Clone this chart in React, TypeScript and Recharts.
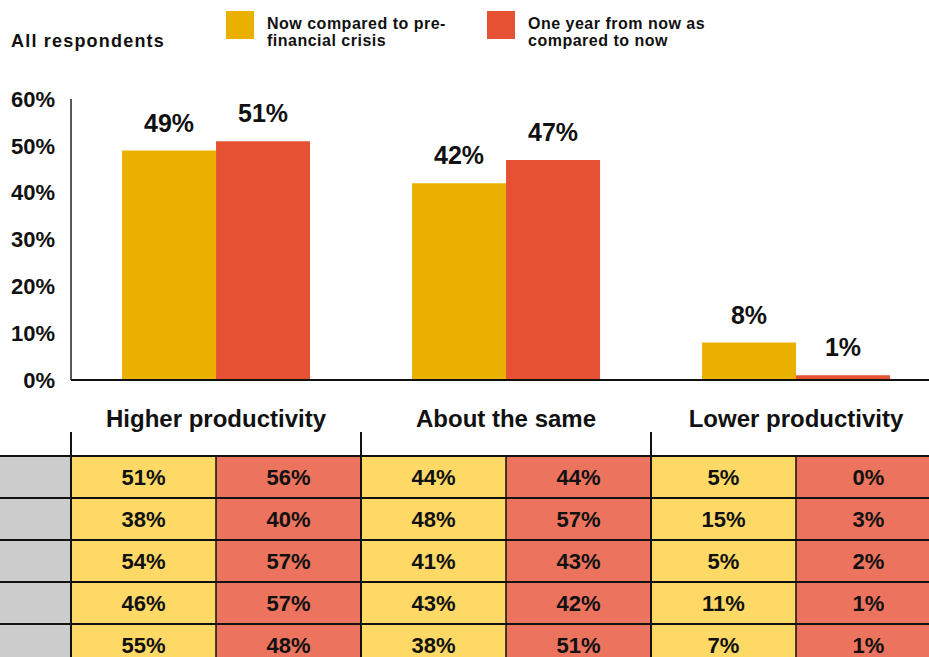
import { BarChart, Bar, XAxis, YAxis, LabelList } from "recharts";

const categories = ["Higher productivity", "About the same", "Lower productivity"];
const nowVsPreCrisis = [49, 42, 8];
const yearFromNow = [51, 47, 1];
const yTicks = [0, 10, 20, 30, 40, 50, 60];

// table below the chart: one list per group, five rows each
const tableNow = [
  [51, 38, 54, 46, 55],
  [44, 48, 41, 43, 38],
  [5, 15, 5, 11, 7],
];
const tableFuture = [
  [56, 40, 57, 57, 48],
  [44, 57, 43, 42, 51],
  [0, 3, 2, 1, 1],
];

const seriesNames = ["Now compared to pre-financial crisis", "One year from now as compared to now"];
const legendLines = [
  ["Now compared to pre-", "financial crisis"],
  ["One year from now as", "compared to now"],
];

const BAR_NOW = "#EAB000";
const BAR_FUTURE = "#E55132";
const CELL_NOW = "#FFD966";
const CELL_FUTURE = "#EC735E";
const CELL_GREY = "#CCCCCC";
const FONT = "'Liberation Sans', Arial, Helvetica, sans-serif";

const W = 941;
const H = 700;
const Y_AXIS_W = 71;
const BAND = (W - Y_AXIS_W) / categories.length;
const ROW_H = 42;

const data = categories.map((c, i) => ({
  name: c,
  now: nowVsPreCrisis[i],
  future: yearFromNow[i],
}));

function GroupTick(props: any) {
  const { x, y, payload } = props;
  const i = categories.indexOf(payload.value);
  const left = x - BAND / 2;
  const right = x + BAND / 2;
  const top = y + 76;
  const rows = tableNow[i];
  return (
    <g>
      <text
        x={x}
        y={y + 47}
        textAnchor="middle"
        fontFamily={FONT}
        fontWeight="bold"
        fontSize={24}
        fill="#111"
      >
        {payload.value}
      </text>
      {i === 0 &&
        rows.map((_, r) => (
          <rect key={"g" + r} x={0} y={top + r * ROW_H} width={left} height={ROW_H} fill={CELL_GREY} />
        ))}
      {rows.map((v, r) => (
        <g key={r}>
          <rect x={left} y={top + r * ROW_H} width={BAND / 2} height={ROW_H} fill={CELL_NOW} />
          <rect x={x} y={top + r * ROW_H} width={BAND / 2} height={ROW_H} fill={CELL_FUTURE} />
          <text
            x={(left + x) / 2}
            y={top + r * ROW_H + 29}
            textAnchor="middle"
            fontFamily={FONT}
            fontWeight="bold"
            fontSize={22}
            fill="#111"
          >
            {v}%
          </text>
          <text
            x={(x + right) / 2}
            y={top + r * ROW_H + 29}
            textAnchor="middle"
            fontFamily={FONT}
            fontWeight="bold"
            fontSize={22}
            fill="#111"
          >
            {tableFuture[i][r]}%
          </text>
          <line
            x1={i === 0 ? 0 : left}
            x2={right}
            y1={top + r * ROW_H}
            y2={top + r * ROW_H}
            stroke="#111"
            strokeWidth={2}
          />
        </g>
      ))}
      <line x1={left} x2={left} y1={y + 52} y2={H} stroke="#111" strokeWidth={2} />
      <line x1={right} x2={right} y1={y + 52} y2={H} stroke="#111" strokeWidth={2} />
      <line x1={x} x2={x} y1={top} y2={H} stroke="#111" strokeWidth={1.5} />
    </g>
  );
}

export default function App() {
  const colors = [BAR_NOW, BAR_FUTURE];
  return (
    <div
      style={{
        position: "absolute",
        left: 0,
        top: 0,
        width: 929,
        height: 657,
        overflow: "hidden",
        background: "#fff",
        fontFamily: FONT,
      }}
    >
      <div
        style={{
          position: "absolute",
          left: 11,
          top: 31,
          fontSize: 18,
          fontWeight: "bold",
          color: "#111",
          letterSpacing: 1.2,
        }}
      >
        All respondents
      </div>
      {seriesNames.map((name, i) => (
        <div key={name} title={name}>
          <div
            style={{
              position: "absolute",
              left: i === 0 ? 226 : 487,
              top: 11,
              width: 28,
              height: 28,
              background: colors[i],
            }}
          />
          <div
            style={{
              position: "absolute",
              left: i === 0 ? 267 : 528,
              top: 15,
              fontSize: 16,
              lineHeight: "17px",
              fontWeight: "bold",
              color: "#111",
              whiteSpace: "nowrap",
              letterSpacing: 0.5,
            }}
          >
            {legendLines[i][0]}
            <br />
            {legendLines[i][1]}
          </div>
        </div>
      ))}
      <BarChart
        width={W}
        height={H}
        data={data}
        margin={{ top: 99, right: 0, bottom: 0, left: 0 }}
        barCategoryGap="17.6%"
        barGap={0}
      >
        <YAxis
          domain={[0, 60]}
          ticks={yTicks}
          width={Y_AXIS_W}
          tickFormatter={(v) => `${v}%`}
          tickLine={false}
          tickSize={0}
          tickMargin={16}
          axisLine={{ stroke: "#222", strokeWidth: 1.5 }}
          tick={{ fill: "#111", fontSize: 22, fontWeight: "bold", fontFamily: FONT }}
        />
        <XAxis
          dataKey="name"
          height={H - 380}
          tickLine={false}
          tickSize={0}
          tickMargin={0}
          interval={0}
          axisLine={{ stroke: "#111", strokeWidth: 2 }}
          tick={<GroupTick />}
        />
        <Bar dataKey="now" name={seriesNames[0]} fill={BAR_NOW} isAnimationActive={false}>
          <LabelList
            dataKey="now"
            position="top"
            offset={19}
            formatter={(v: any) => `${v}%`}
            style={{ fill: "#111", fontSize: 25, fontWeight: "bold", fontFamily: FONT }}
          />
        </Bar>
        <Bar dataKey="future" name={seriesNames[1]} fill={BAR_FUTURE} isAnimationActive={false}>
          <LabelList
            dataKey="future"
            position="top"
            offset={19}
            formatter={(v: any) => `${v}%`}
            style={{ fill: "#111", fontSize: 25, fontWeight: "bold", fontFamily: FONT }}
          />
        </Bar>
      </BarChart>
    </div>
  );
}
